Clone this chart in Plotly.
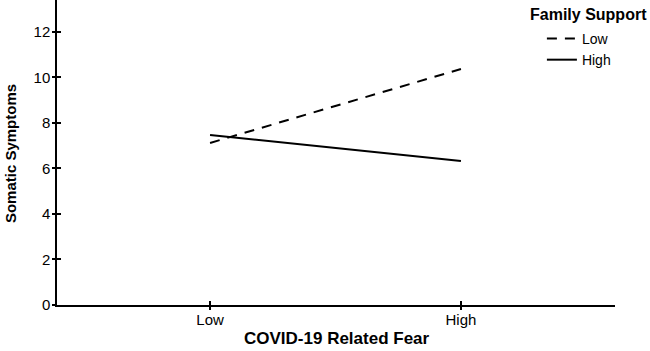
import plotly.graph_objects as go

fear_levels = ["Low", "High"]
fear_pos = [0, 1]
support_low = [7.12, 10.37]
support_high = [7.47, 6.33]
y_ticks = [0, 2, 4, 6, 8, 10, 12]

FONT = "Liberation Sans, Arial, sans-serif"

fig = go.Figure()
fig.add_trace(go.Scatter(
    x=fear_pos, y=support_low, mode="lines", name="Low",
    line=dict(color="black", width=2, dash="10px,8px"),
    xaxis="x", yaxis="y", hoverinfo="skip"))
fig.add_trace(go.Scatter(
    x=fear_pos, y=support_high, mode="lines", name="High",
    line=dict(color="black", width=2),
    xaxis="x2", yaxis="y2", hoverinfo="skip"))

xr = [-0.61, 1.614]
yr = [0, 13.4]

fig.update_layout(
    width=650, height=351,
    margin=dict(l=57, r=35, t=0, b=46),
    paper_bgcolor="white", plot_bgcolor="white",
    font=dict(family=FONT, size=14, color="black"),
    showlegend=True,
    legend=dict(x=0.869, y=0.925, xanchor="left", yanchor="top",
                bgcolor="rgba(0,0,0,0)", font=dict(size=14),
                tracegroupgap=0),
    xaxis=dict(range=xr, tickvals=fear_pos, ticktext=fear_levels,
               ticks="inside", ticklen=4, tickwidth=1.5, tickcolor="black",
               showline=True, linecolor="black", linewidth=1.5,
               showgrid=False, zeroline=False, fixedrange=True,
               tickfont=dict(size=15)),
    yaxis=dict(range=yr, tickvals=y_ticks, ticks="inside", ticklen=4,
               tickwidth=1.5, tickcolor="black", ticklabelstandoff=2,
               showline=True, linecolor="black", linewidth=1.5,
               showgrid=False, zeroline=False, fixedrange=True,
               tickfont=dict(size=15)),
    xaxis2=dict(range=xr, tickvals=fear_pos, overlaying="x", anchor="y2",
                side="bottom", ticks="outside", ticklen=4, tickwidth=1.5,
                tickcolor="black", showticklabels=False, showline=False,
                showgrid=False, zeroline=False, fixedrange=True),
    yaxis2=dict(range=yr, tickvals=y_ticks, overlaying="y", anchor="x2",
                side="left", ticks="outside", ticklen=4, tickwidth=1.5,
                tickcolor="black", showticklabels=False, showline=False,
                showgrid=False, zeroline=False, fixedrange=True),
    annotations=[
        dict(text="<b>Somatic Symptoms</b>", xref="paper", yref="paper",
             x=-0.083, y=0.497, xanchor="center", yanchor="middle",
             textangle=-90, showarrow=False, font=dict(size=15)),
        dict(text="<b>COVID-19 Related Fear</b>", xref="paper", yref="paper",
             x=0.502, y=-0.11, xanchor="center", yanchor="middle",
             showarrow=False, font=dict(size=17)),
        dict(text="<b>Family Support</b>", xref="paper", yref="paper",
             x=1.061, y=0.951, xanchor="right", yanchor="middle",
             showarrow=False, font=dict(size=16)),
    ],
)

fig.write_html("out.html",
               config={"displayModeBar": False},
               post_script="document.body.style.margin='0px';")
